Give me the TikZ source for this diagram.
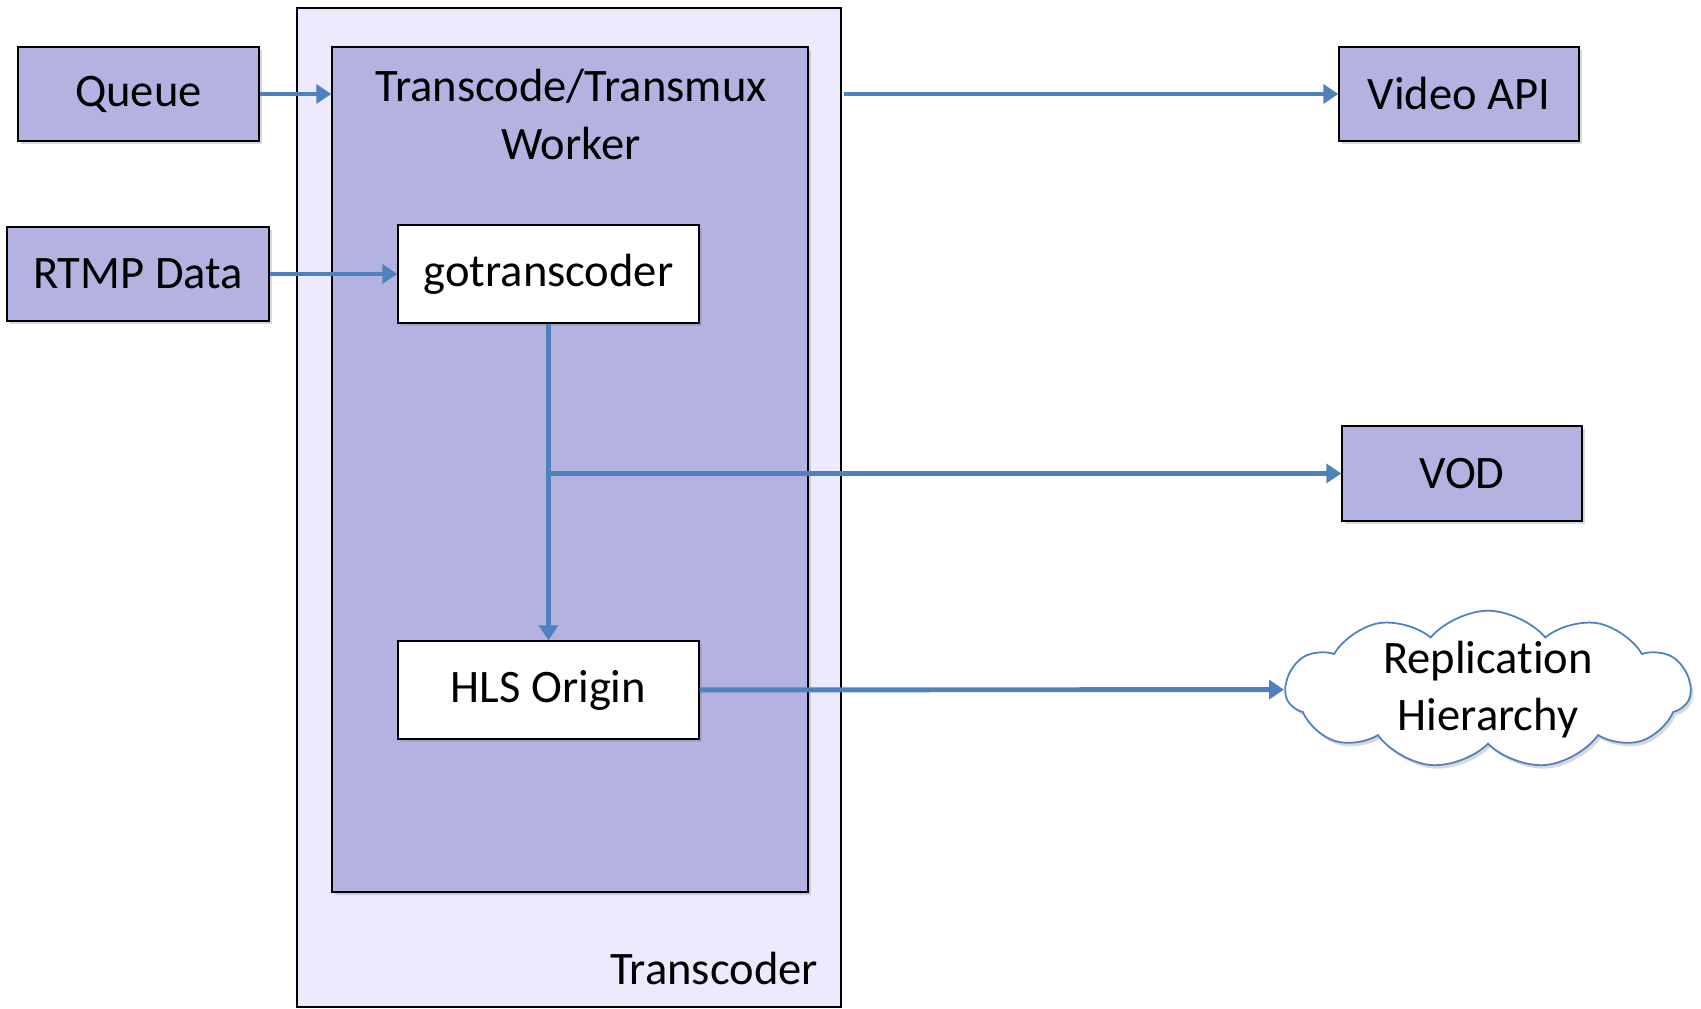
\documentclass[tikz,border=0pt]{standalone}
\usepackage{fontspec}
\setmainfont{Carlito}[Ligatures=NoCommon]
\usetikzlibrary{positioning}
\usetikzlibrary{arrows.meta, shapes.symbols, shadows}
\definecolor{boxfill}{RGB}{180,178,224}
\definecolor{outerfill}{RGB}{236,234,252}
\definecolor{flowblue}{RGB}{79,129,189}

\begin{document}
\begin{tikzpicture}[
  font=\fontsize{26.5}{32.5}\selectfont,
  panel/.style={rectangle,draw=black,line width=0.8pt,fill=boxfill,inner sep=0pt},
  box/.style={panel,minimum width=4.8cm,minimum height=1.88cm,
    drop shadow={shadow xshift=0.05cm,shadow yshift=-0.07cm,opacity=0.3}},
  inbox/.style={box,fill=white,minimum width=6.02cm,minimum height=1.96cm},
  flow/.style={draw=flowblue,line width=2.8pt,-{Triangle[length=0.3cm,width=0.38cm]}}
]
\useasboundingbox (0,0) rectangle (34.02,20.18);

% transcoder and worker
\node[panel,fill=outerfill,minimum width=10.88cm,minimum height=19.98cm] (tc) at (11.38,10.03) {};
\node[panel,minimum width=9.52cm,minimum height=16.90cm,
  drop shadow={shadow xshift=0.05cm,shadow yshift=-0.07cm,opacity=0.3}] (wk) at (11.40,10.79) {};
\node[align=center] (wklabel) at (11.42,17.89) {Transcode/Transmux\\Worker};
\node (tclabel) at (14.28,0.80) {Transcoder};

% inputs
\node[box,minimum width=4.82cm] (queue) at (2.77,18.30) {Queue};
\node[box,minimum width=5.24cm] (rtmp) at (2.76,14.70) {RTMP Data};

% inside the worker
\node[inbox] (gotc) at (10.97,14.70) {gotranscoder};
\node[inbox] (hls) at (10.97,6.38) {HLS Origin};

% outputs
\node[box] (vapi) at (29.18,18.30) {Video API};
\node[box,minimum height=1.90cm] (vod) at (29.24,10.71) {VOD};
\node[cloud,draw=flowblue,line width=1pt,fill=white,cloud puffs=11,cloud puff arc=100,
  aspect=2.6,minimum width=8.1cm,minimum height=3.15cm,inner xsep=-0.4cm,inner ysep=-0.4cm,
  align=center,drop shadow={shadow xshift=0.05cm,shadow yshift=-0.07cm,opacity=0.3}]
  (repl) at (29.76,6.39) {Replication\\Hierarchy};

% connectors
\coordinate (apiout) at (16.88,18.30);
\coordinate (split) at (gotc.south |- vod.west);
\draw[flow] (queue) -- (queue -| wk.west);
\draw[flow] (rtmp) -- (gotc);
\draw[flow] (apiout) -- (vapi);
\draw[flow] (gotc) -- (hls);
\draw[flow] (split) -- (vod);
\draw[flow] (hls) -- (repl);

\end{tikzpicture}
\end{document}
